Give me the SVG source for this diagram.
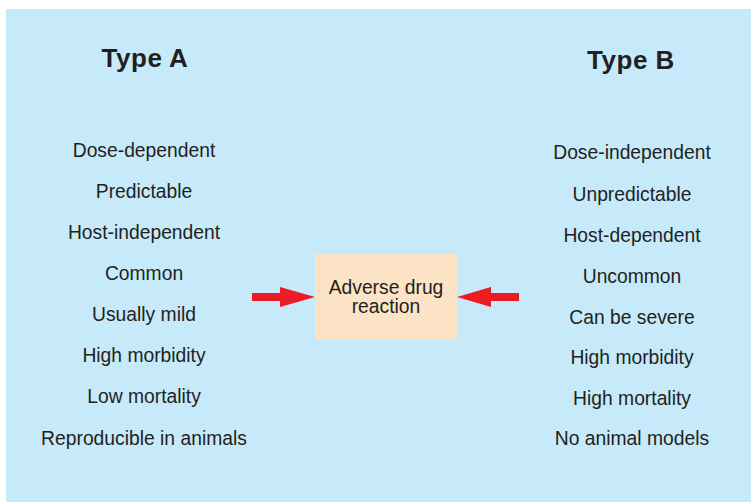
<svg xmlns="http://www.w3.org/2000/svg" width="751" height="502" viewBox="0 0 751 502">
  <style>
    .t { font-family: "Liberation Sans", Arial, sans-serif; font-size: 19.3px; fill: #231f20; text-anchor: middle; }
    .h { font-family: "Liberation Sans", Arial, sans-serif; font-size: 26px; font-weight: bold; fill: #231f20; text-anchor: middle; letter-spacing: 0.5px; }
    .arrow { fill: #ed1c24; }
  </style>
  <rect x="0" y="0" width="751" height="502" fill="#ffffff"/>
  <rect x="6" y="9" width="745" height="493" fill="#c6eafa"/>

  <g id="typeA">
    <text class="h" x="145" y="67">Type A</text>
    <text class="t" x="144" y="157">Dose-dependent</text>
    <text class="t" x="144" y="198">Predictable</text>
    <text class="t" x="144" y="239">Host-independent</text>
    <text class="t" x="144" y="280">Common</text>
    <text class="t" x="144" y="321">Usually mild</text>
    <text class="t" x="144" y="362">High morbidity</text>
    <text class="t" x="144" y="403">Low mortality</text>
    <text class="t" x="144" y="445">Reproducible in animals</text>
  </g>

  <g id="typeB">
    <text class="h" x="631" y="69">Type B</text>
    <text class="t" x="632" y="159">Dose-independent</text>
    <text class="t" x="632" y="201">Unpredictable</text>
    <text class="t" x="632" y="242">Host-dependent</text>
    <text class="t" x="632" y="283">Uncommon</text>
    <text class="t" x="632" y="324">Can be severe</text>
    <text class="t" x="632" y="364">High morbidity</text>
    <text class="t" x="632" y="405">High mortality</text>
    <text class="t" x="632" y="445">No animal models</text>
  </g>

  <g id="adr">
    <rect x="315" y="254" width="142" height="85" fill="#fde3c6"/>
    <text class="t" x="386" y="294">Adverse drug</text>
    <text class="t" x="386" y="313">reaction</text>
  </g>

  <g id="connectors">
    <polygon class="arrow" points="252,293 280,293 280,287 315,297 280,307 280,301 252,301"/>
    <polygon class="arrow" points="519,293 491,293 491,287 457,297 491,307 491,301 519,301"/>
  </g>
</svg>
